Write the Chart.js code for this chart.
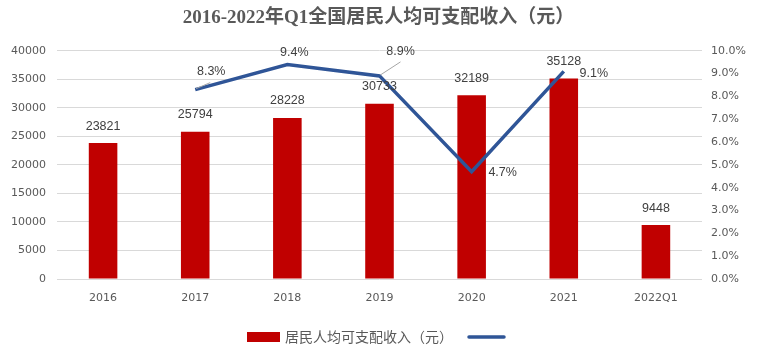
<!DOCTYPE html>
<html>
<head>
<meta charset="utf-8">
<script src="https://cdn.jsdelivr.net/npm/chart.js@4/dist/chart.umd.min.js"></script>
<style>
html,body{margin:0;padding:0;background:#fff;}
#wrap{width:757px;height:355px;position:relative;}
</style>
</head>
<body>
<div id="wrap"><canvas id="c" width="757" height="355"></canvas></div>
<script>
const categories = ['2016', '2017', '2018', '2019', '2020', '2021', '2022Q1'];
const income = [23821, 25794, 28228, 30733, 32189, 35128, 9448];
const growth = [null, 8.3, 9.4, 8.9, 4.7, 9.1, null];
const incomeLabel = '居民人均可支配收入（元）';
const titleText = '2016-2022年Q1全国居民人均可支配收入（元）';

const BAR = '#C00000';
const LINE = '#2F5597';
const TXT = '#595959';
const LBL = '#404040';
const CJK = '"Noto Sans CJK SC"';

const labelPlugin = {
  id: 'labels',
  afterDatasetsDraw(chart) {
    const ctx = chart.ctx;
    ctx.save();
    ctx.font = '12.5px "Liberation Sans", ' + CJK;
    ctx.fillStyle = LBL;
    ctx.textAlign = 'center';
    ctx.textBaseline = 'middle';
    const barMeta = chart.getDatasetMeta(0);
    barMeta.data.forEach((el, i) => {
      ctx.fillText(String(income[i]), el.x, el.y - 17);
    });
    const lineMeta = chart.getDatasetMeta(1);
    // label placement relative to each point: [dx, dy, leader]
    const place = {1: [16, -18, true], 2: [7, -12, false], 3: [21, -24, true], 4: [31, 1, false], 5: [30, 2, false]};
    lineMeta.data.forEach((el, i) => {
      if (growth[i] == null) return;
      const p = place[i];
      if (p[2]) {
        ctx.strokeStyle = '#A6A6A6';
        ctx.lineWidth = 1;
        ctx.beginPath();
        ctx.moveTo(el.x + 1, el.y - 1);
        if (i === 1) ctx.lineTo(el.x + 15, el.y - 7);
        else ctx.lineTo(el.x + 21, el.y - 14);
        ctx.stroke();
      }
      ctx.fillStyle = LBL;
      ctx.fillText(growth[i].toFixed(1) + '%', el.x + p[0], el.y + p[1]);
    });
    ctx.restore();
  },
  afterDraw(chart) {
    const ctx = chart.ctx;
    ctx.save();
    // legend
    ctx.fillStyle = BAR;
    ctx.fillRect(247, 332, 33, 10);
    ctx.fillStyle = TXT;
    ctx.font = '14px ' + CJK;
    ctx.textAlign = 'left';
    ctx.textBaseline = 'middle';
    ctx.fillText(incomeLabel, 285, 337);
    ctx.strokeStyle = LINE;
    ctx.lineWidth = 3.5;
    ctx.lineCap = 'round';
    ctx.beginPath();
    ctx.moveTo(469, 337);
    ctx.lineTo(504, 337);
    ctx.stroke();
    ctx.restore();
  }
};

new Chart(document.getElementById('c'), {
  data: {
    labels: categories,
    datasets: [
      {
        type: 'bar',
        label: incomeLabel,
        data: income,
        backgroundColor: BAR,
        barPercentage: 0.31,
        categoryPercentage: 1,
        yAxisID: 'y',
        order: 1
      },
      {
        type: 'line',
        label: '',
        data: growth,
        borderColor: LINE,
        borderWidth: 3.5,
        pointRadius: 0,
        tension: 0,
        yAxisID: 'y1',
        order: 0
      }
    ]
  },
  options: {
    responsive: false,
    animation: false,
    layout: { padding: { left: 0, right: 0, top: 0, bottom: 40 } },
    plugins: {
      legend: { display: false },
      tooltip: { enabled: false },
      title: {
        display: true,
        text: titleText,
        color: TXT,
        font: { family: '"Liberation Serif", ' + CJK, size: 19, weight: 'bold' },
        padding: { top: 7, bottom: 21 }
      }
    },
    scales: {
      x: {
        grid: { display: false, drawTicks: false },
        border: { display: false },
        ticks: { color: TXT, font: { family: '"DejaVu Sans"', size: 11 }, padding: 13 },
        afterFit(s) { s.height = 36; }
      },
      y: {
        position: 'left',
        min: 0, max: 40000,
        ticks: { stepSize: 5000, color: TXT, font: { family: '"DejaVu Sans"', size: 11 }, padding: 11,
          callback: v => String(v) },
        grid: { color: '#D9D9D9', drawTicks: false, lineWidth: 1 },
        border: { display: false },
        afterFit(s) { s.width = 57; }
      },
      y1: {
        position: 'right',
        min: 0, max: 10,
        ticks: { stepSize: 1, color: TXT, font: { family: '"DejaVu Sans"', size: 11 }, padding: 9,
          callback: v => v.toFixed(1) + '%' },
        grid: { display: false, drawTicks: false },
        border: { display: false },
        afterFit(s) { s.width = 55; }
      }
    }
  },
  plugins: [labelPlugin]
});
</script>
</body>
</html>
